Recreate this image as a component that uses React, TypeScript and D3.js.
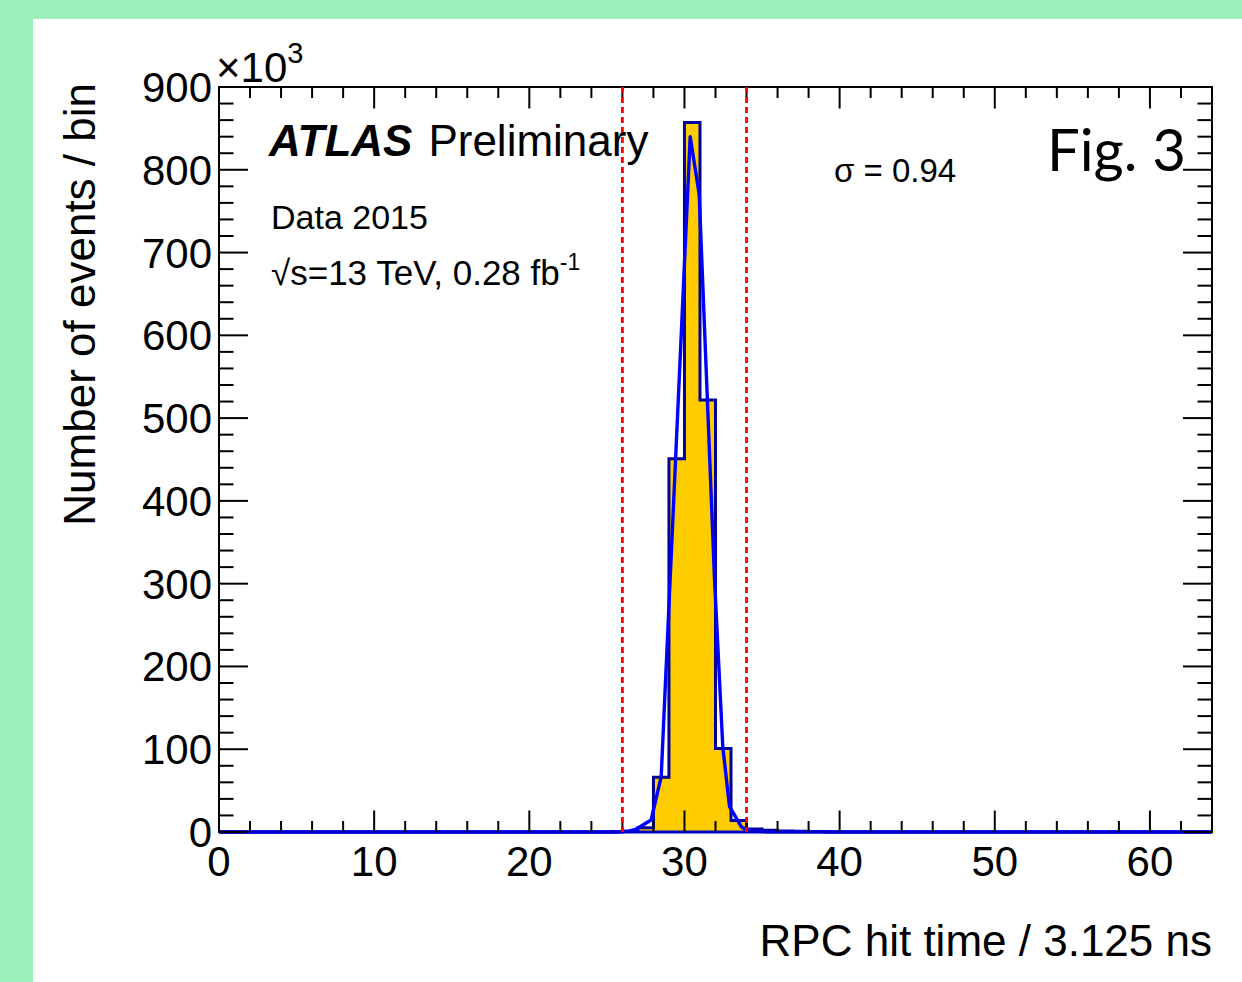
import React from "react";
import * as d3 from "d3";

// Histogram: bin lower edges (width 1) and contents in thousands of events
const binEdges = [24, 25, 26, 27, 28, 29, 30, 31, 32, 33, 34, 35, 36, 37, 38];
const binCounts = [0.1, 0.3, 1, 5, 66, 451, 857, 522, 101, 14, 3.5, 2, 1.2, 0.8, 0.5];

// Fitted curve (x in bins, y in thousands)
const fitX = [0, 25.6, 26.4, 26.9, 27.85, 28.5, 30.37, 30.95, 31.94, 32.47, 32.9, 33.66, 34.0, 34.6, 35.5, 64];
const fitY = [0, 0, 1, 3.6, 14.5, 66.8, 840, 770, 304, 103, 31, 6.4, 2.4, 1, 0.3, 0];

const cutLines = [26, 34];
const xMajorTicks = [0, 10, 20, 30, 40, 50, 60];
const yMajorTicks = [0, 100, 200, 300, 400, 500, 600, 700, 800, 900];

const W = 1242;
const H = 982;
const M = { left: 219, right: 1212, top: 87, bottom: 832 };

export default function App() {
  const x = d3.scaleLinear().domain([0, 64]).range([M.left, M.right]);
  const y = d3.scaleLinear().domain([0, 900]).range([M.bottom, M.top]);

  const xMinor = d3.range(0, 65, 2).filter((v) => v % 10 !== 0);
  const yMinor = d3.range(0, 901, 20).filter((v) => v % 100 !== 0);

  const full: { x0: number; v: number }[] = d3.range(0, 64).map((b) => {
    const i = binEdges.indexOf(b);
    return { x0: b, v: i >= 0 ? binCounts[i] : 0 };
  });
  const stepPts: [number, number][] = [];
  full.forEach((d) => {
    stepPts.push([x(d.x0), y(d.v)]);
    stepPts.push([x(d.x0 + 1), y(d.v)]);
  });
  const stepLine = d3.line();
  const areaPts: [number, number][] = [[x(0), y(0)], ...stepPts, [x(64), y(0)]];

  const fitLine = d3
    .line<number>()
    .x((d) => x(fitX[d]))
    .y((d) => y(fitY[d]));

  const font = "'Liberation Sans', Arial, Helvetica, sans-serif";
  const xMajLen = 21.5, xMinLen = 11, yMajLen = 29, yMinLen = 14.5;

  return (
    <div style={{ position: "fixed", left: 0, top: 0 }}>
      <svg width={W} height={H} style={{ display: "block" }}>
        <rect x={0} y={0} width={W} height={H} fill="#9ef0ba" />
        <rect x={33} y={19} width={W - 33} height={H - 19} fill="#ffffff" />

        {/* histogram */}
        <path d={stepLine(areaPts) || ""} fill="#ffcc00" stroke="none" />
        <path d={stepLine(stepPts) || ""} fill="none" stroke="#000099" strokeWidth={3} />

        {/* fit */}
        <path
          d={fitLine(d3.range(fitX.length)) || ""}
          fill="none"
          stroke="#0000ff"
          strokeWidth={3.4}
          strokeLinejoin="round"
        />

        {/* frame */}
        <rect
          x={M.left}
          y={M.top}
          width={M.right - M.left}
          height={M.bottom - M.top}
          fill="none"
          stroke="#000"
          strokeWidth={2}
        />
        <line x1={x(0)} x2={x(64)} y1={y(0)} y2={y(0)} stroke="#0000cc" strokeWidth={2.8} />

        {/* ticks */}
        <g stroke="#000" strokeWidth={2}>
          {xMajorTicks.map((t) => (
            <g key={"xm" + t}>
              <line x1={x(t)} x2={x(t)} y1={M.bottom} y2={M.bottom - xMajLen} />
              <line x1={x(t)} x2={x(t)} y1={M.top} y2={M.top + xMajLen} />
            </g>
          ))}
          {xMinor.map((t) => (
            <g key={"xn" + t}>
              <line x1={x(t)} x2={x(t)} y1={M.bottom} y2={M.bottom - xMinLen} />
              <line x1={x(t)} x2={x(t)} y1={M.top} y2={M.top + xMinLen} />
            </g>
          ))}
          {yMajorTicks.map((t) => (
            <g key={"ym" + t}>
              <line x1={M.left} x2={M.left + yMajLen} y1={y(t)} y2={y(t)} />
              <line x1={M.right} x2={M.right - yMajLen} y1={y(t)} y2={y(t)} />
            </g>
          ))}
          {yMinor.map((t) => (
            <g key={"yn" + t}>
              <line x1={M.left} x2={M.left + yMinLen} y1={y(t)} y2={y(t)} />
              <line x1={M.right} x2={M.right - yMinLen} y1={y(t)} y2={y(t)} />
            </g>
          ))}
        </g>

        {/* cut lines */}
        {cutLines.map((c) => (
          <line
            key={"c" + c}
            x1={x(c)}
            x2={x(c)}
            y1={M.top}
            y2={M.bottom}
            stroke="#ff0000"
            strokeWidth={2.8}
            strokeDasharray="6 4"
          />
        ))}

        {/* tick labels */}
        <g fontFamily={font} fontSize={42} fill="#000">
          {xMajorTicks.map((t) => (
            <text key={"xl" + t} x={x(t)} y={876} textAnchor="middle">
              {t}
            </text>
          ))}
          {yMajorTicks.map((t) => (
            <text key={"yl" + t} x={212} y={y(t) + 15} textAnchor="end">
              {t}
            </text>
          ))}
          <text x={216} y={82}>
            ×10
            <tspan fontSize={29} dy={-19}>3</tspan>
          </text>
        </g>

        {/* axis titles */}
        <text
          fontFamily={font}
          fontSize={44}
          textAnchor="end"
          transform={`translate(95,83) rotate(-90)`}
        >
          Number of events / bin
        </text>
        <text fontFamily={font} fontSize={44} textAnchor="end" x={1212} y={956}>
          RPC hit time / 3.125 ns
        </text>

        {/* labels */}
        <text fontFamily={font} fontSize={44} x={269} y={156}>
          <tspan fontWeight="bold" fontStyle="italic">ATLAS</tspan>
          <tspan dx={16}>Preliminary</tspan>
        </text>
        <text fontFamily={font} fontSize={34} x={271} y={229}>
          Data 2015
        </text>
        <text fontFamily={font} fontSize={35} x={271} y={285}>
          √s=13 TeV, 0.28 fb
          <tspan fontSize={23} dy={-15}>-1</tspan>
        </text>
        <text fontFamily={font} fontSize={33} x={834} y={182}>
          σ = 0.94
        </text>
        <text fontFamily="Lato, 'Open Sans', sans-serif" fontSize={58} x={1047} y={171}>
          Fig. 3
        </text>
      </svg>
    </div>
  );
}
